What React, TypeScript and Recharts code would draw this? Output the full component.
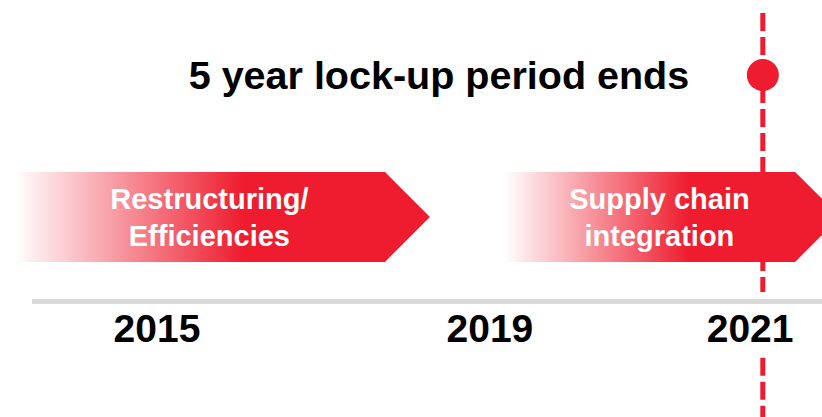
import React from "react";
import {
    ComposedChart, XAxis, YAxis, Scatter, ReferenceArea, ReferenceLine, ReferenceDot
} from "recharts";

// Timeline positions are in abstract units (0-100) along each axis
const YEARS = ['2015', '2019', '2021'];
const YEAR_POS = [19.1, 59.6, 91.25];
const YEAR_LABEL_Y = 18;

const PHASE_LINES = [
    ['Restructuring/', 'Efficiencies'],
    ['Supply chain', 'integration'],
];
const PHASE_START = [1.8, 61.4];
const PHASE_END = [52.3, 102.2];
const PHASE_TOP = 58.75;
const PHASE_BOTTOM = 37.2;

const MILESTONE_TEXT = '5 year lock-up period ends';
const MILESTONE_POS = 92.8;
const MILESTONE_Y = 82;
const TITLE_POS = 53.4;

const TIMELINE_Y = 27.7;
const TIMELINE_START = 3.9;

const RED = '#EE1C2E';
const FONT = '"Liberation Sans", Arial, sans-serif';

const yearData = YEARS.map((year, i) => ({ x: YEAR_POS[i], y: YEAR_LABEL_Y, label: year }));

function PhaseArrow(props: any) {
    const { x, y, width, height, index } = props;
    const tip = height / 2;
    const bodyEnd = x + width - tip;
    const points = [
        [x, y], [bodyEnd, y], [x + width, y + height / 2], [bodyEnd, y + height], [x, y + height],
    ].map(p => p.join(',')).join(' ');
    const cx = x + (width - tip) / 2 + 9.5;
    const mid = y + height / 2;
    const lines = PHASE_LINES[index];
    return (
        <g>
            <polygon points={points} fill={`url(#phaseGrad${index})`} />
            <text x={cx} y={mid - 7.5} textAnchor="middle" fill="#fff" fontSize={29} fontWeight="bold" fontFamily={FONT}>
                {lines[0]}
            </text>
            <text x={cx} y={mid + 29} textAnchor="middle" fill="#fff" fontSize={29} fontWeight="bold" fontFamily={FONT}>
                {lines[1]}
            </text>
        </g>
    );
}

function YearLabel(props: any) {
    const { cx, cy, payload } = props;
    return (
        <text x={cx} y={cy} textAnchor="middle" fill="#000" fontSize={39} fontWeight="bold" fontFamily={FONT}>
            {payload.label}
        </text>
    );
}

function TitleLabel(props: any) {
    const { cx, cy } = props;
    return (
        <text x={cx} y={cy + 14} textAnchor="middle" fill="#000" fontSize={39.5} fontWeight="bold" fontFamily={FONT}>
            {MILESTONE_TEXT}
        </text>
    );
}

export default function App() {
    return (
        <div style={{ position: 'absolute', left: 0, top: 0 }}>
            <ComposedChart width={822} height={417} margin={{ top: 0, right: 0, bottom: 0, left: 0 }}>
                <defs>
                    {PHASE_LINES.map((_, i) => (
                        <linearGradient key={i} id={`phaseGrad${i}`} x1="0" y1="0" x2="1" y2="0">
                            <stop offset="0" stopColor="#ffffff" />
                            <stop offset="0.55" stopColor={RED} />
                            <stop offset="1" stopColor={RED} />
                        </linearGradient>
                    ))}
                </defs>
                <XAxis type="number" dataKey="x" domain={[0, 100]} allowDataOverflow hide />
                <YAxis type="number" dataKey="y" domain={[0, 100]} allowDataOverflow hide />

                {PHASE_LINES.map((_, i) => (
                    <ReferenceArea
                        key={i}
                        x1={PHASE_START[i]}
                        x2={PHASE_END[i]}
                        y1={PHASE_BOTTOM}
                        y2={PHASE_TOP}
                        ifOverflow="visible"
                        shape={(p: any) => <PhaseArrow {...p} index={i} />}
                    />
                ))}

                <ReferenceLine
                    segment={[{ x: TIMELINE_START, y: TIMELINE_Y }, { x: 100, y: TIMELINE_Y }]}
                    stroke="#d9d9d9"
                    strokeWidth={5}
                    ifOverflow="visible"
                />

                <ReferenceLine
                    segment={[{ x: MILESTONE_POS, y: 96.9 }, { x: MILESTONE_POS, y: 30 }]}
                    stroke={RED}
                    strokeWidth={5}
                    strokeDasharray="18 6"
                    ifOverflow="visible"
                />
                <ReferenceLine
                    segment={[{ x: MILESTONE_POS, y: 14.2 }, { x: MILESTONE_POS, y: 0 }]}
                    stroke={RED}
                    strokeWidth={5}
                    strokeDasharray="18 6"
                    ifOverflow="visible"
                />
                <ReferenceDot x={MILESTONE_POS} y={MILESTONE_Y} r={16} fill={RED} stroke="none" ifOverflow="visible" />
                <ReferenceDot x={TITLE_POS} y={MILESTONE_Y} r={0} ifOverflow="visible" shape={(p: any) => <TitleLabel {...p} />} />

                <Scatter data={yearData} dataKey="y" isAnimationActive={false} shape={(p: any) => <YearLabel {...p} />} />
            </ComposedChart>
        </div>
    );
}
